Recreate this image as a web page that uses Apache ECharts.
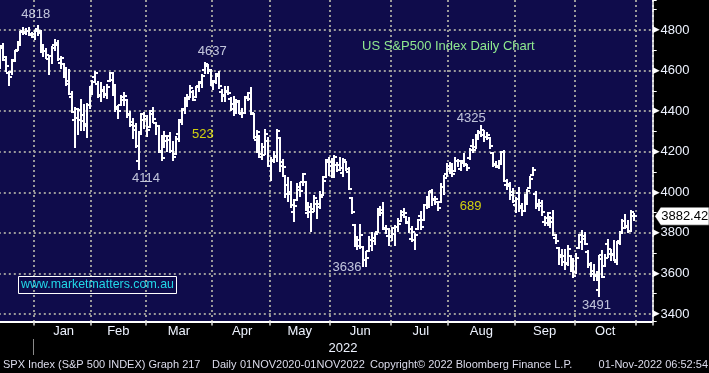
<!DOCTYPE html>
<html><head><meta charset="utf-8">
<script src="https://cdn.jsdelivr.net/npm/echarts@6/dist/echarts.min.js"></script>
<style>html,body{margin:0;padding:0;background:#000;}#c{width:709px;height:373px;}</style>
</head><body><div id="c"></div>
<script>
// ---- categories (trading days) ----
const dates = [
'2021-12-15','2021-12-16','2021-12-17','2021-12-20','2021-12-21','2021-12-22','2021-12-23','2021-12-27','2021-12-28','2021-12-29','2021-12-30','2021-12-31',
'2022-01-03','2022-01-04','2022-01-05','2022-01-06','2022-01-07','2022-01-10','2022-01-11','2022-01-12','2022-01-13','2022-01-14','2022-01-18','2022-01-19','2022-01-20','2022-01-21','2022-01-24','2022-01-25','2022-01-26','2022-01-27','2022-01-28','2022-01-31',
'2022-02-01','2022-02-02','2022-02-03','2022-02-04','2022-02-07','2022-02-08','2022-02-09','2022-02-10','2022-02-11','2022-02-14','2022-02-15','2022-02-16','2022-02-17','2022-02-18','2022-02-22','2022-02-23','2022-02-24','2022-02-25','2022-02-28',
'2022-03-01','2022-03-02','2022-03-03','2022-03-04','2022-03-07','2022-03-08','2022-03-09','2022-03-10','2022-03-11','2022-03-14','2022-03-15','2022-03-16','2022-03-17','2022-03-18','2022-03-21','2022-03-22','2022-03-23','2022-03-24','2022-03-25','2022-03-28','2022-03-29','2022-03-30','2022-03-31',
'2022-04-01','2022-04-04','2022-04-05','2022-04-06','2022-04-07','2022-04-08','2022-04-11','2022-04-12','2022-04-13','2022-04-14','2022-04-18','2022-04-19','2022-04-20','2022-04-21','2022-04-22','2022-04-25','2022-04-26','2022-04-27','2022-04-28','2022-04-29',
'2022-05-02','2022-05-03','2022-05-04','2022-05-05','2022-05-06','2022-05-09','2022-05-10','2022-05-11','2022-05-12','2022-05-13','2022-05-16','2022-05-17','2022-05-18','2022-05-19','2022-05-20','2022-05-23','2022-05-24','2022-05-25','2022-05-26','2022-05-27','2022-05-31',
'2022-06-01','2022-06-02','2022-06-03','2022-06-06','2022-06-07','2022-06-08','2022-06-09','2022-06-10','2022-06-13','2022-06-14','2022-06-15','2022-06-16','2022-06-17','2022-06-21','2022-06-22','2022-06-23','2022-06-24','2022-06-27','2022-06-28','2022-06-29','2022-06-30',
'2022-07-01','2022-07-05','2022-07-06','2022-07-07','2022-07-08','2022-07-11','2022-07-12','2022-07-13','2022-07-14','2022-07-15','2022-07-18','2022-07-19','2022-07-20','2022-07-21','2022-07-22','2022-07-25','2022-07-26','2022-07-27','2022-07-28','2022-07-29',
'2022-08-01','2022-08-02','2022-08-03','2022-08-04','2022-08-05','2022-08-08','2022-08-09','2022-08-10','2022-08-11','2022-08-12','2022-08-15','2022-08-16','2022-08-17','2022-08-18','2022-08-19','2022-08-22','2022-08-23','2022-08-24','2022-08-25','2022-08-26','2022-08-29','2022-08-30','2022-08-31',
'2022-09-01','2022-09-02','2022-09-06','2022-09-07','2022-09-08','2022-09-09','2022-09-12','2022-09-13','2022-09-14','2022-09-15','2022-09-16','2022-09-19','2022-09-20','2022-09-21','2022-09-22','2022-09-23','2022-09-26','2022-09-27','2022-09-28','2022-09-29','2022-09-30',
'2022-10-03','2022-10-04','2022-10-05','2022-10-06','2022-10-07','2022-10-10','2022-10-11','2022-10-12','2022-10-13','2022-10-14','2022-10-17','2022-10-18','2022-10-19','2022-10-20','2022-10-21','2022-10-24','2022-10-25','2022-10-26','2022-10-27','2022-10-28','2022-10-31'
];
const padDates = ['2022-11-01','2022-11-02','2022-11-03','2022-11-04','2022-11-07','2022-11-08'];

// ---- OHLC values [open, high, low, close] ----
const ohlc = [
[4636,4709,4612,4709],[4719,4731,4651,4668],[4652,4666,4600,4621],[4587,4591,4531,4568],[4594,4651,4584,4649],[4650,4698,4645,4697],[4703,4740,4703,4725],[4733,4791,4733,4791],[4795,4808,4780,4786],[4788,4804,4778,4793],[4795,4808,4775,4778],[4775,4787,4766,4766],
[4778,4797,4758,4796],[4804,4818.6,4774,4793],[4787,4797,4700,4700],[4693,4725,4671,4696],[4697,4707,4663,4677],[4655,4673,4582,4670],[4670,4714,4638,4713],[4728,4749,4701,4726],[4734,4745,4650,4659],[4637,4666,4614,4662],[4632,4632,4568,4577],[4588,4611,4530,4532],[4547,4602,4483,4483],[4472,4495,4395,4398],[4357,4417,4223,4410],[4367,4411,4287,4356],[4408,4453,4305,4350],[4380,4428,4309,4326],[4336,4433,4273,4432],[4431,4516,4415,4516],
[4519,4550,4484,4546],[4567,4595,4544,4589],[4535,4542,4470,4477],[4482,4540,4451,4501],[4505,4521,4471,4484],[4480,4531,4466,4521],[4547,4590,4547,4587],[4553,4589,4478,4504],[4507,4527,4401,4419],[4413,4426,4365,4401],[4430,4473,4429,4472],[4455,4489,4430,4475],[4456,4456,4373,4380],[4385,4394,4327,4349],[4332,4362,4267,4305],[4325,4339,4221,4226],[4155,4295,4115,4288],[4298,4385,4287,4385],[4354,4389,4318,4374],
[4363,4375,4279,4306],[4322,4401,4322,4387],[4401,4416,4345,4363],[4342,4343,4285,4329],[4328,4328,4199,4201],[4203,4276,4157,4171],[4223,4299,4223,4278],[4252,4269,4206,4260],[4279,4291,4201,4204],[4202,4248,4161,4173],[4189,4271,4187,4262],[4289,4358,4252,4358],[4345,4412,4336,4412],[4407,4465,4390,4463],[4462,4481,4424,4461],[4470,4522,4468,4512],[4493,4501,4455,4456],[4470,4521,4469,4520],[4523,4546,4501,4543],[4541,4576,4518,4575],[4603,4637,4589,4632],[4624,4628,4589,4602],[4599,4604,4530,4530],
[4541,4547,4507,4546],[4547,4583,4539,4583],[4573,4593,4514,4525],[4495,4503,4451,4481],[4474,4521,4450,4500],[4494,4521,4485,4488],[4462,4464,4408,4413],[4437,4471,4382,4397],[4394,4453,4392,4447],[4449,4452,4391,4392],[4385,4410,4370,4391],[4390,4471,4390,4463],[4472,4489,4455,4459],[4490,4513,4385,4393],[4385,4386,4267,4272],[4256,4300,4201,4296],[4279,4279,4175,4175],[4187,4240,4163,4184],[4222,4308,4188,4288],[4253,4270,4132,4132],
[4131,4170,4063,4155],[4159,4200,4147,4175],[4181,4308,4152,4300],[4270,4270,4107,4147],[4128,4158,4082,4123],[4081,4081,3976,3991],[4035,4069,3957,4001],[3991,4050,3928,3935],[3904,3964,3859,3930],[3963,4039,3963,4024],[4013,4047,3984,4008],[4053,4090,4034,4088],[4051,4051,3912,3923],[3900,3946,3876,3901],[3927,3944,3811,3901],[3919,3981,3909,3974],[3943,3955,3875,3941],[3929,3999,3925,3979],[3985,4075,3985,4058],[4077,4158,4077,4158],[4151,4169,4084,4132],
[4150,4166,4074,4101],[4096,4177,4074,4176],[4137,4143,4107,4109],[4134,4169,4110,4121],[4096,4164,4080,4161],[4148,4150,4111,4116],[4102,4119,4017,4018],[3974,3974,3900,3901],[3838,3838,3734,3750],[3763,3779,3722,3735],[3764,3837,3723,3790],[3729,3729,3639,3667],[3665,3707,3636,3675],[3710,3779,3710,3765],[3733,3801,3717,3760],[3775,3796,3743,3796],[3805,3913,3805,3912],[3920,3928,3889,3900],[3913,3945,3820,3821],[3826,3836,3799,3819],[3786,3818,3738,3785],
[3782,3826,3766,3825],[3793,3832,3742,3831],[3831,3870,3809,3845],[3858,3910,3858,3903],[3888,3919,3878,3899],[3880,3880,3847,3855],[3851,3873,3802,3819],[3770,3829,3759,3802],[3764,3796,3722,3790],[3819,3863,3817,3863],[3883,3903,3818,3831],[3861,3939,3861,3937],[3935,3975,3924,3960],[3955,3999,3927,3999],[4007,4013,3939,3962],[3965,3975,3944,3967],[3954,3954,3911,3921],[3951,4039,3951,4024],[4026,4078,3992,4072],[4088,4140,4080,4130],
[4113,4144,4097,4119],[4105,4140,4080,4091],[4107,4167,4107,4155],[4155,4161,4129,4152],[4116,4152,4108,4145],[4156,4187,4128,4140],[4134,4137,4112,4122],[4171,4212,4165,4210],[4227,4258,4200,4207],[4225,4280,4219,4280],[4270,4301,4262,4297],[4291,4325,4278,4305],[4281,4302,4253,4275],[4273,4293,4261,4284],[4266,4266,4219,4228],[4196,4196,4130,4138],[4134,4149,4123,4128],[4126,4156,4119,4140],[4154,4200,4147,4199],[4198,4204,4057,4058],[4034,4062,4017,4030],[4041,4044,3965,3986],[4000,4015,3954,3955],
[3936,3970,3903,3966],[3995,4019,3907,3924],[3930,3942,3886,3908],[3910,3987,3906,3980],[3959,4010,3944,4006],[4022,4076,4022,4067],[4084,4119,4084,4110],[3990,4003,3922,3932],[3940,3961,3914,3946],[3933,3957,3889,3901],[3855,3880,3838,3873],[3849,3900,3838,3900],[3875,3876,3828,3856],[3871,3907,3789,3790],[3773,3790,3749,3758],[3727,3727,3648,3693],[3682,3716,3644,3655],[3687,3717,3623,3647],[3651,3736,3640,3719],[3688,3688,3610,3640],[3633,3671,3584,3586],
[3609,3698,3604,3678],[3726,3791,3726,3791],[3753,3807,3722,3783],[3771,3798,3744,3745],[3706,3712,3630,3640],[3647,3653,3588,3612],[3595,3641,3568,3589],[3590,3606,3570,3577],[3520,3685,3491,3670],[3690,3713,3582,3583],[3638,3690,3638,3677],[3746,3763,3680,3720],[3696,3716,3667,3695],[3689,3762,3664,3666],[3657,3757,3647,3752],[3762,3803,3743,3797],[3799,3862,3799,3859],[3825,3886,3824,3831],[3835,3859,3803,3807],[3809,3906,3808,3901],[3881,3893,3863,3882.42]
];
const lastPrice = 3882.42;

// ---- tick labels / annotations ----
const monthNames = ['Jan','Feb','Mar','Apr','May','Jun','Jul','Aug','Sep','Oct','Nov','Dec'];
const yearLabel = '2022';
const peakLabels = [
  ['2022-01-04', 4818.6, '4818'],
  ['2022-03-29', 4637, '4637'],
  ['2022-02-24', 4115, '4114'],
  ['2022-06-17', 3636, '3636'],
  ['2022-08-16', 4325, '4325'],
  ['2022-10-13', 3491, '3491']
];
const moveLabels = [
  ['2022-03-28', 4286, '523'],
  ['2022-08-12', 3932, '689']
];
const titleText = 'US S&P500 Index Daily Chart';
const watermark = 'www.marketmatters.com.au';
const footerParts = ['SPX Index (S&P 500 INDEX) Graph 217', 'Daily', '01NOV2020-01NOV2022', 'Copyright\u00A9 2022 Bloomberg Finance L.P.', '01-Nov-2022 06:52:54'];

// ---- layout / style (separate from data) ----
const peakOffsets = [[-2,-12],[7.5,-11.5],[7.5,9],[-19,1],[-10,-8],[-3,9.5]];
const moveOffsets = [[1,0],[-5,0]];
const footerX = [3, 212, 240, 370, 708];
const FONT = '"Liberation Sans", Arial, sans-serif';
const NAVY = '#0f0c4b';
const TXT = '#eef3ff';
const gridLine = {color:'#9a9a9a', width:2, type:[2,3]};

const cats = dates.concat(padDates);
const startSet = new Set(), midSet = new Set();
(function(){
  const groups = []; let prev = null, s = 0;
  for (let i = 0; i < dates.length; i++) {
    const m = dates[i].slice(0,7);
    if (m !== prev) { if (prev !== null) groups.push([s, i]); prev = m; s = i; }
  }
  groups.push([s, dates.length]);
  groups.forEach((g, k) => {
    if (k === 0) return; // partial December
    startSet.add(g[0]);
    midSet.add(g[0] + Math.floor((g[1]-g[0])/2));
  });
  startSet.add(dates.length); // November boundary
})();

const chart = echarts.init(document.getElementById('c'), null, {renderer:'canvas'});
const option = {
  backgroundColor: '#000',
  animation: false,
  title: {text: titleText, left: 362, top: 40, padding: 0,
    textStyle: {color:'#8fe88f', fontSize:13, fontWeight:'normal', fontFamily: FONT}},
  grid: {left: -1.2, right: 56.3, top: 0, bottom: 51.5, show: true, backgroundColor: NAVY, borderWidth: 0, outerBoundsMode: 'none', containLabel: false},
  xAxis: {
    type: 'category', data: cats, boundaryGap: true,
    axisLine: {show: true, lineStyle: {color:'#ffffff', width: 2}},
    axisTick: {show: true, interval: (i) => startSet.has(i), length: 4, lineStyle: {color:'#dddddd', width: 1.5}},
    splitLine: {show: true, interval: (i) => startSet.has(i), lineStyle: gridLine},
    axisLabel: {interval: (i) => midSet.has(i), formatter: (v) => monthNames[parseInt(v.slice(5,7),10)-1],
      color: TXT, fontSize: 13, fontFamily: FONT, margin: 3}
  },
  yAxis: [
    {type: 'value', position: 'right', min: 3363, max: 4948, splitNumber: 8,
     axisLine: {show: true, lineStyle: {color:'#ffffff', width: 1.5}},
     axisTick: {show: false},
     splitLine: {show: true, showMinLine: false, showMaxLine: false, lineStyle: gridLine},
     axisLabel: {margin: 0, showMinLabel: false, showMaxLabel: false,
       formatter: (v) => (Math.round(v) % 200 === 0 ? '{t|\u25B6}{v|' + Math.round(v) + '}' : ''),
       rich: {t: {fontSize: 9, color:'#ffffff', fontFamily:'"DejaVu Sans", sans-serif'},
              v: {fontSize: 13, color: TXT, fontFamily: FONT, padding:[0,0,0,1]}}}
    },
    {type: 'value', position: 'right', min: 3363, max: 4948, splitNumber: 16,
     axisLine: {show: false}, axisLabel: {show: false}, splitLine: {show: false},
     axisTick: {show: true, length: 4, lineStyle: {color:'#ffffff', width: 1}}
    }
  ],
  series: [
    {type: 'custom', name: 'SPX', silent: true,
     encode: {x: 0, y: [1,2,3,4]},
     data: ohlc.map((b, i) => [i, b[0], b[1], b[2], b[3]]),
     renderItem: function(params, api) {
       const i = api.value(0);
       const pO = api.coord([i, api.value(1)]);
       const pH = api.coord([i, api.value(2)]);
       const pL = api.coord([i, api.value(3)]);
       const pC = api.coord([i, api.value(4)]);
       const bw = api.size([1, 0])[0];
       const x = Math.round(pH[0]);
       const t = Math.round(bw);
       const yo = Math.round(pO[1]), yc = Math.round(pC[1]);
       const st = {stroke:'#ffffff', lineWidth: 2};
       const sh = {stroke:'#ffffff', lineWidth: 2};
       return {type:'group', children:[
         {type:'line', shape:{x1:x, y1:Math.round(pH[1])-1, x2:x, y2:Math.round(pL[1])+1}, style: st},
         {type:'line', shape:{x1:x-t, y1:yo, x2:x, y2:yo}, style: sh},
         {type:'line', shape:{x1:x, y1:yc, x2:x+t, y2:yc}, style: sh}
       ]};
     }
    },
    {type: 'scatter', silent: true, symbolSize: 0, z: 5,
     itemStyle: {color: 'rgba(0,0,0,0)'},
     label: {show: true, position: 'inside', fontSize: 13, fontFamily: FONT, color: TXT},
     data: peakLabels.map((p, k) => ({value: [cats.indexOf(p[0]), p[1]],
       label: {formatter: p[2], offset: peakOffsets[k]}})).concat(
       moveLabels.map((p, k) => ({value: [cats.indexOf(p[0]), p[1]],
       label: {formatter: p[2], offset: moveOffsets[k], color: '#ffff00'}})))
    }
  ]
};
chart.setOption(option);

// overlays positioned through the axes
const x0 = chart.convertToPixel({xAxisIndex: 0}, 0);
const x1 = chart.convertToPixel({xAxisIndex: 0}, 1);
const band = x1 - x0;
const xJan = chart.convertToPixel({xAxisIndex: 0}, cats.indexOf('2022-01-03')) - band/2;
const xRight = chart.convertToPixel({xAxisIndex: 0}, cats.length - 1) + band/2;
const yLast = chart.convertToPixel({yAxisIndex: 0}, lastPrice);

const footerEls = footerParts.map((s, k) => ({
  type: 'text', x: footerX[k], y: 365, silent: true,
  style: {text: s, fill: '#dcdcec', font: '11px ' + FONT,
    align: k === footerParts.length-1 ? 'right' : 'left', textAlign: k === footerParts.length-1 ? 'right' : 'left',
    verticalAlign: 'middle', textVerticalAlign: 'middle'}
}));

chart.setOption({graphic: {elements: [
  {type:'rect', silent:true, shape:{x:18.5, y:276.5, width:158, height:17}, style:{fill:'none', stroke:'#ffffff', lineWidth:1}, z: 10},
  {type:'text', silent:true, x:97.5, y:285, z: 10, style:{text: watermark, fill:'#22d8e8', font:'12.4px ' + FONT, align:'center', textAlign:'center', verticalAlign:'middle', textVerticalAlign:'middle'}},
  {type:'text', silent:true, x:343, y:348, style:{text: yearLabel, fill: TXT, font:'13px ' + FONT, align:'center', textAlign:'center', verticalAlign:'middle', textVerticalAlign:'middle'}},
  {type:'line', silent:true, shape:{x1: Math.round(xJan)+0.5, y1:339, x2: Math.round(xJan)+0.5, y2:355}, style:{stroke:'#8a8a8a', lineWidth:1}},
  {type:'polygon', silent:true, z: 10, shape:{points:[[xRight+2, yLast],[xRight+8, yLast-9],[709, yLast-9],[709, yLast+9],[xRight+8, yLast+9]]}, style:{fill:'#ffffff', stroke:'#000000', lineWidth:0.5}},
  {type:'text', silent:true, z: 11, x: xRight+8.5, y: yLast+0.5, style:{text: String(lastPrice), fill:'#000000', font:'13px ' + FONT, align:'left', textAlign:'left', verticalAlign:'middle', textVerticalAlign:'middle'}}
].concat(footerEls)}});
</script>
</body></html>
